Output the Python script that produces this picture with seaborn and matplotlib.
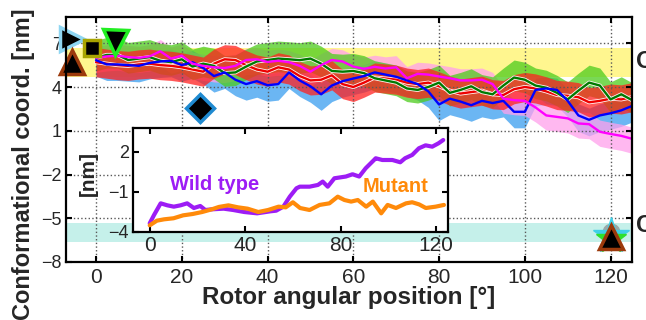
import numpy as np
import pandas as pd
import seaborn as sns
import matplotlib
matplotlib.use("Agg")
import matplotlib.pyplot as plt
import matplotlib.patheffects as pe

sns.set_theme(style="ticks")
plt.rcParams['font.family'] = ['Liberation Sans', 'DejaVu Sans']

# rotor angle grid of the smoothed traces [deg]
angle = [0, 2.5, 5, 7.5, 10, 12.5, 15, 17.5, 20, 22.5, 25, 27.5, 30, 32.5, 35, 37.5,
         40, 42.5, 45, 47.5, 50, 52.5, 55, 57.5, 60, 62.5, 65, 67.5, 70, 72.5, 75,
         77.5, 80, 82.5, 85, 87.5, 90, 92.5, 95, 97.5, 100, 102.5, 105, 107.5, 110,
         112.5, 115, 117.5, 120, 122.5, 125]

# smoothed conformational coordinate of each run [nm]
run_red = [5.7, 5.6, 5.5, 5.45, 5.55, 5.6, 5.5, 5.45, 5.35, 5.2, 5.05, 5.6, 5.9, 5.85,
           5.5, 5.2, 5.05, 5.35, 5.2, 4.75, 4.45, 4.5, 4.8, 4.2, 4.0, 4.3, 4.65, 4.58,
           4.5, 4.3, 4.2, 4.3, 4.05, 3.75, 3.55, 3.65, 3.75, 3.5, 3.45, 3.85, 4.0, 3.9,
           3.7, 3.45, 3.4, 3.3, 2.95, 3.05, 3.2, 3.15, 3.3]
run_green = [6.0, 6.2, 6.2, 5.85, 5.95, 6.05, 5.8, 5.7, 5.9, 5.4, 5.6, 5.45, 4.95, 5.0,
             5.4, 5.75, 5.85, 5.95, 5.9, 5.84, 5.95, 5.6, 5.1, 5.05, 5.1, 4.95, 4.6,
             4.45, 4.3, 3.9, 3.8, 4.0, 4.3, 3.6, 3.8, 4.05, 3.65, 3.5, 4.1, 4.65, 4.5,
             4.1, 3.95, 3.6, 3.15, 3.75, 4.3, 4.1, 3.15, 3.5, 3.1]
run_blue = [5.84, 5.55, 5.55, 5.5, 5.45, 5.65, 5.75, 5.8, 5.5, 5.7, 5.3, 4.75, 5.0, 4.5,
            4.2, 4.4, 4.12, 4.2, 5.0, 4.45, 4.05, 3.5, 4.1, 4.4, 4.58, 4.75, 5.0, 4.85,
            4.7, 4.45, 4.2, 3.7, 2.8, 3.2, 3.0, 2.75, 3.05, 2.9, 3.05, 2.3, 2.3, 3.8,
            3.9, 3.8, 3.05, 2.05, 1.75, 2.05, 2.2, 2.4, 2.7]
run_pink = [6.0, 6.1, 6.15, 6.05, 6.0, 6.1, 6.45, 5.95, 6.15, 5.6, 5.45, 5.35, 5.3, 5.45,
            5.85, 5.9, 5.72, 5.8, 5.7, 5.45, 5.05, 5.5, 5.85, 5.75, 5.4, 5.25, 5.38,
            5.27, 5.35, 4.6, 4.9, 4.85, 4.72, 4.6, 4.45, 4.45, 4.5, 4.2, 3.2, 3.1, 3.05,
            2.6, 2.05, 1.95, 1.85, 1.5, 1.45, 0.93, 0.78, 0.65, 0.45]

# spread of the raw (unsmoothed) traces above / below the smoothed line [nm]
raw_up = {'red': 1.0, 'green': 1.2, 'blue': 0.8, 'pink': 0.8}
raw_down = {'red': 1.0, 'green': 0.9, 'blue': 1.1, 'pink': 1.0}

# start states (left) and end state (right)
start_x = [-5.6, -5.6, -1, 4.4, 24.2]
start_y = [7.27, 5.7, 6.65, 7.07, 2.55]
end_x, end_y = 120, -6.3

# reference bands
open_band = (4.7, 6.7)
closed_band = (-6.6, -5.3)

# inset: work along the rotor angle [nm]
wt_angle = [0, 1.8, 4.6, 7.4, 10.1, 12.9, 15.7, 18.5, 21.2, 23.3, 26, 31, 35, 39.6, 45,
            50.5, 53, 56, 58.7, 61.5, 62.9, 67, 70.5, 72.5, 74.6, 77.4, 82.2, 85, 87.8,
            90.5, 94, 94.7, 97.5, 101.7, 105, 107, 110, 112.8, 115.6, 118.4, 121, 123]
wild_type = [-3.35, -2.73, -1.85, -2.0, -2.1, -2.0, -1.85, -2.2, -2.05, -2.35, -2.3,
             -2.25, -2.35, -2.5, -2.6, -2.45, -2.4, -2.1, -1.35, -0.72, -0.6, -0.6,
             -0.47, -0.22, -0.6, 0.03, 0.16, 0.33, 0.16, 0.78, 1.4, 1.53, 1.4, 1.4,
             1.23, 1.53, 1.78, 2.28, 2.5, 2.4, 2.65, 2.9]
mt_angle = [0, 3, 6, 10, 14, 18, 22, 26, 29, 33, 37, 41, 45.5, 49.6, 54, 57, 60, 63, 67,
            71.2, 75.3, 78.8, 81.6, 84.4, 87.2, 90.7, 93.5, 97, 99.7, 103.2, 107.4, 110,
            112.9, 115.7, 119.8, 123.3]
mutant = [-3.5, -3.15, -3.05, -2.97, -2.75, -2.65, -2.5, -2.3, -2.12, -2.0, -2.15, -2.25,
          -2.5, -2.35, -2.1, -2.15, -1.77, -2.2, -2.35, -1.97, -1.85, -1.35, -1.6, -1.72,
          -1.6, -2.1, -1.72, -2.6, -1.97, -2.2, -1.85, -1.77, -1.93, -2.2, -2.1, -1.97]

runs = pd.DataFrame({'angle': angle, 'red': run_red, 'green': run_green,
                     'blue': run_blue, 'pink': run_pink})

raw_col = {'blue': '#3a9ef0', 'pink': '#ffa0ec', 'green': '#4ccc1c', 'red': '#ff2020'}
line_col = {'red': '#ee0000', 'green': '#007a00', 'blue': '#0000ff', 'pink': '#ff00ff'}
outline = [pe.Stroke(linewidth=2.9, foreground='#fff4f4'), pe.Normal()]

fig = plt.figure(figsize=(6.46, 3.2), dpi=100)
ax = fig.add_axes([66 / 646, 58 / 320, 566 / 646, 245 / 320])

ax.axhspan(*open_band, color='#fff68f', zorder=0.1, lw=0)
ax.axhspan(*closed_band, color='#c5f0ea', zorder=0.1, lw=0)

for k in ['blue', 'pink', 'green', 'red']:
    ax.fill_between(runs['angle'], runs[k] - raw_down[k], runs[k] + raw_up[k],
                    color=raw_col[k], alpha=0.75, lw=0, zorder=2)

for k in ['red', 'green', 'blue', 'pink']:
    sns.lineplot(data=runs, x='angle', y=k, ax=ax, color=line_col[k], lw=1.7, zorder=3,
                 path_effects=outline if k in ('red', 'green') else None)

# start / end markers
mk = dict(mfc='black', ls='none', clip_on=False, zorder=6, mew=2.5)
ax.plot(start_x[0], start_y[0], marker='>', ms=17, mec='#8fd6f2', **mk)
ax.plot(start_x[1], start_y[1], marker='^', ms=17, mec='#9c3a0c', **mk)
ax.plot(start_x[2], start_y[2], marker='s', ms=12, mec='#a8a400', **mk)
ax.plot(start_x[3], start_y[3], marker='v', ms=18, mec='#22ee22', **mk)
ax.plot(start_x[4], start_y[4], marker='D', ms=14, mec='#1f8ad0', **mk)
ax.plot(end_x, end_y + 0.35, marker='o', ms=12, color='#9aa8a8', ls='none', zorder=5, clip_on=False)
ax.plot(end_x, end_y + 0.1, marker='*', ms=27, color='#3fd0e8', ls='none', zorder=5, clip_on=False)
ax.plot(end_x, end_y - 0.15, marker='*', ms=22, color='#2ee02e', ls='none', zorder=5, clip_on=False)
ax.plot(end_x, end_y, marker='^', ms=17, mec='#9c3a0c', **mk)

ax.set_xlim(-7, 125)
ax.set_ylim(-8, 8.8)
ax.set_xticks([0, 20, 40, 60, 80, 100, 120])
ax.set_yticks([-8, -5, -2, 1, 4, 7])
ax.set_axisbelow(False)
ax.grid(True, ls=':', color='0.35', lw=1, zorder=1)
ax.tick_params(direction='in', top=True, right=True, length=4, width=1.5, color='black')
ax.tick_params(axis='x', labelsize=15, pad=4)
ax.tick_params(axis='y', labelsize=13, pad=3)
for s in ax.spines.values():
    s.set_linewidth(1.6)
    s.set_color('black')
    s.set_zorder(7)
ax.set_xlabel('Rotor angular position [°]', fontsize=17.5, fontweight='bold')
ax.set_ylabel('Conformational coord. [nm]', fontsize=17, fontweight='bold')
ax.xaxis.set_label_coords(0.5, -0.098)
ax.yaxis.set_label_coords(-0.055, 0.40)

fig.text(636 / 646, 1 - 61.5 / 320, 'O', fontsize=17, fontweight='bold', ha='left', va='center')
fig.text(636 / 646, 1 - 225 / 320, 'C', fontsize=17, fontweight='bold', ha='left', va='center')

# inset
ins = fig.add_axes([133 / 646, 88 / 320, 315 / 646, 104 / 320])
ins.set_facecolor('white')
sns.lineplot(x=wt_angle, y=wild_type, ax=ins, color='#9d1cf5', lw=3)
sns.lineplot(x=mt_angle, y=mutant, ax=ins, color='#ff8a0a', lw=3)
ins.text(27, -0.45, 'Wild type', color='#9d1cf5', fontsize=14.5, fontweight='bold',
         ha='center', va='center')
ins.text(103, -0.6, 'Mutant', color='#ff8a0a', fontsize=14.5, fontweight='bold',
         ha='center', va='center')
ins.set_xlim(-7, 125)
ins.set_ylim(-4, 3.8)
ins.set_xticks([0, 40, 80, 120])
ins.set_yticks([-4, -1, 2])
ins.tick_params(direction='in', top=True, right=True, length=4, width=1.5, color='black')
ins.tick_params(axis='x', labelsize=15, pad=3)
ins.tick_params(axis='y', labelsize=13, pad=3)
for s in ins.spines.values():
    s.set_linewidth(1.6)
    s.set_color('black')
ins.set_xlabel('')
ins.set_ylabel('[nm]', fontsize=15, fontweight='bold')
ins.yaxis.set_label_coords(-0.11, 0.56)

fig.savefig('out.png', dpi=100)
